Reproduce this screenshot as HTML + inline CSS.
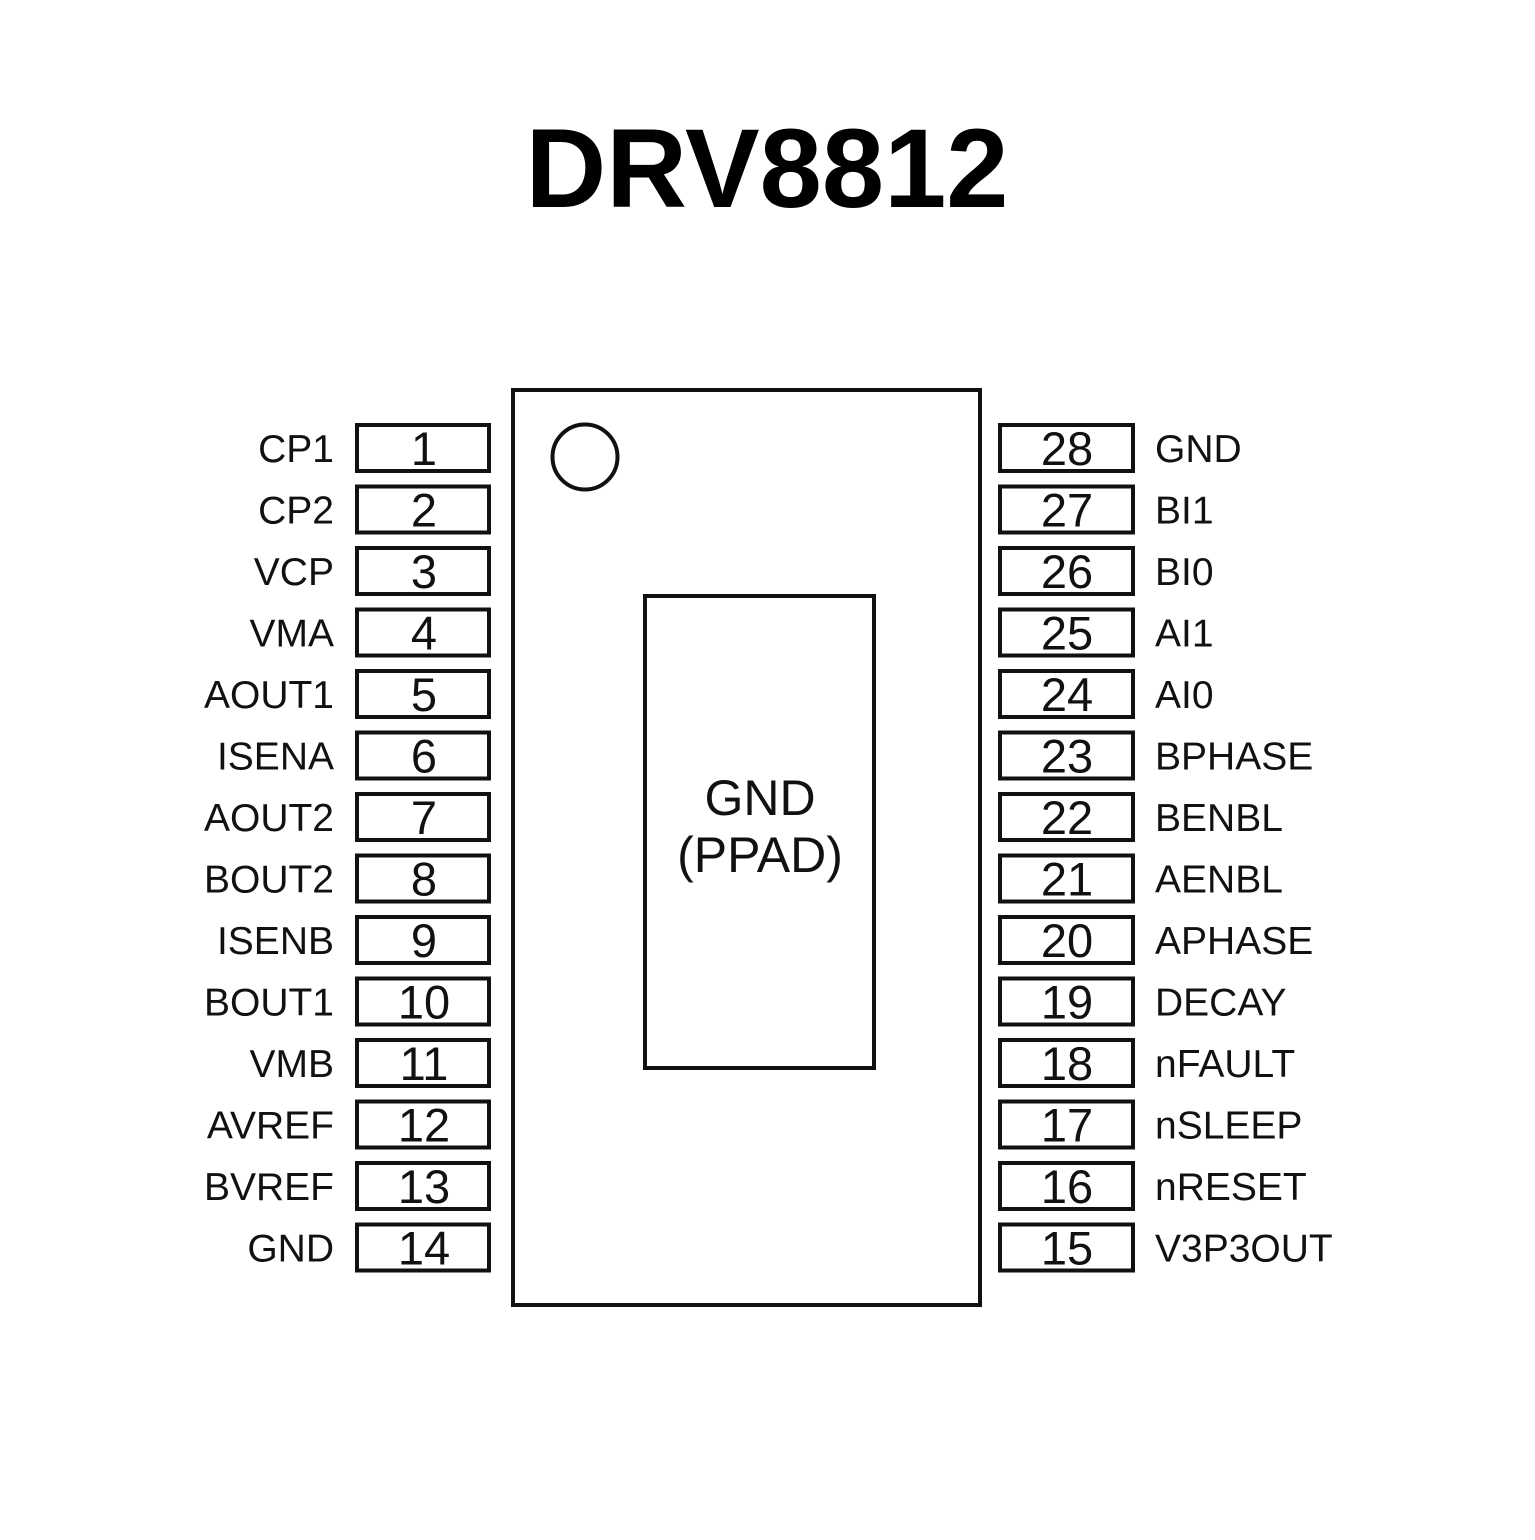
<!DOCTYPE html>
<html><head><meta charset="utf-8"><style>html,body{margin:0;padding:0;background:#fff}</style></head><body>
<svg width="1535" height="1535" viewBox="0 0 1535 1535" xmlns="http://www.w3.org/2000/svg" font-family="Liberation Sans, sans-serif">
<rect width="1535" height="1535" fill="#fff"/>
<text x="767" y="207" text-anchor="middle" font-weight="bold" font-size="112" textLength="483" lengthAdjust="spacingAndGlyphs" fill="#000">DRV8812</text>
<g fill="none" stroke="#111" stroke-width="4">
<rect x="513" y="390" width="467" height="915"/>
<circle cx="585" cy="457" r="32.5"/>
<rect x="645" y="596" width="229" height="472"/>
<rect x="357" y="425" width="132" height="46"/><rect x="1000" y="425" width="133" height="46"/>
<rect x="357" y="486.5" width="132" height="46"/><rect x="1000" y="486.5" width="133" height="46"/>
<rect x="357" y="548" width="132" height="46"/><rect x="1000" y="548" width="133" height="46"/>
<rect x="357" y="609.5" width="132" height="46"/><rect x="1000" y="609.5" width="133" height="46"/>
<rect x="357" y="671" width="132" height="46"/><rect x="1000" y="671" width="133" height="46"/>
<rect x="357" y="732.5" width="132" height="46"/><rect x="1000" y="732.5" width="133" height="46"/>
<rect x="357" y="794" width="132" height="46"/><rect x="1000" y="794" width="133" height="46"/>
<rect x="357" y="855.5" width="132" height="46"/><rect x="1000" y="855.5" width="133" height="46"/>
<rect x="357" y="917" width="132" height="46"/><rect x="1000" y="917" width="133" height="46"/>
<rect x="357" y="978.5" width="132" height="46"/><rect x="1000" y="978.5" width="133" height="46"/>
<rect x="357" y="1040" width="132" height="46"/><rect x="1000" y="1040" width="133" height="46"/>
<rect x="357" y="1101.5" width="132" height="46"/><rect x="1000" y="1101.5" width="133" height="46"/>
<rect x="357" y="1163" width="132" height="46"/><rect x="1000" y="1163" width="133" height="46"/>
<rect x="357" y="1224.5" width="132" height="46"/><rect x="1000" y="1224.5" width="133" height="46"/>
</g>
<g fill="#111">
<text x="760" y="815" text-anchor="middle" font-size="50">GND</text>
<text x="760" y="872" text-anchor="middle" font-size="50">(PPAD)</text>
</g>
<g fill="#111" font-size="47" text-anchor="middle" transform="translate(0,-2)">
<text x="424" y="467">1</text><text x="424" y="528.5">2</text><text x="424" y="590">3</text><text x="424" y="651.5">4</text><text x="424" y="713">5</text><text x="424" y="774.5">6</text><text x="424" y="836">7</text><text x="424" y="897.5">8</text><text x="424" y="959">9</text><text x="424" y="1020.5">10</text><text x="424" y="1082">11</text><text x="424" y="1143.5">12</text><text x="424" y="1205">13</text><text x="424" y="1266.5">14</text>
<text x="1067" y="467">28</text><text x="1067" y="528.5">27</text><text x="1067" y="590">26</text><text x="1067" y="651.5">25</text><text x="1067" y="713">24</text><text x="1067" y="774.5">23</text><text x="1067" y="836">22</text><text x="1067" y="897.5">21</text><text x="1067" y="959">20</text><text x="1067" y="1020.5">19</text><text x="1067" y="1082">18</text><text x="1067" y="1143.5">17</text><text x="1067" y="1205">16</text><text x="1067" y="1266.5">15</text>
</g>
<g fill="#111" font-size="39" text-anchor="end">
<text x="334" y="462">CP1</text><text x="334" y="523.5">CP2</text><text x="334" y="585">VCP</text><text x="334" y="646.5">VMA</text><text x="334" y="708">AOUT1</text><text x="334" y="769.5">ISENA</text><text x="334" y="831">AOUT2</text><text x="334" y="892.5">BOUT2</text><text x="334" y="954">ISENB</text><text x="334" y="1015.5">BOUT1</text><text x="334" y="1077">VMB</text><text x="334" y="1138.5">AVREF</text><text x="334" y="1200">BVREF</text><text x="334" y="1261.5">GND</text>
</g>
<g fill="#111" font-size="39">
<text x="1155" y="462">GND</text><text x="1155" y="523.5">BI1</text><text x="1155" y="585">BI0</text><text x="1155" y="646.5">AI1</text><text x="1155" y="708">AI0</text><text x="1155" y="769.5">BPHASE</text><text x="1155" y="831">BENBL</text><text x="1155" y="892.5">AENBL</text><text x="1155" y="954">APHASE</text><text x="1155" y="1015.5">DECAY</text><text x="1155" y="1077">nFAULT</text><text x="1155" y="1138.5">nSLEEP</text><text x="1155" y="1200">nRESET</text><text x="1155" y="1261.5">V3P3OUT</text>
</g>
</svg>
</body></html>
